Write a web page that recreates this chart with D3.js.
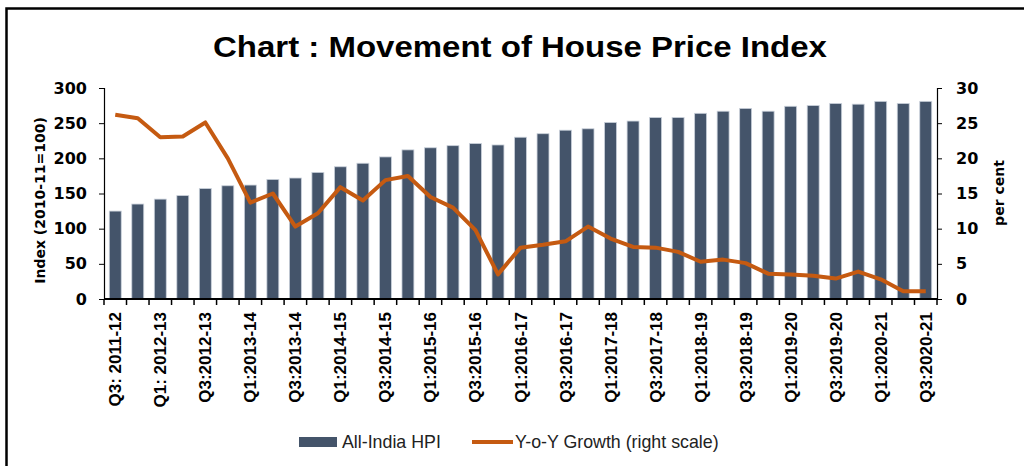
<!DOCTYPE html>
<html>
<head>
<meta charset="utf-8">
<script src="https://cdn.jsdelivr.net/npm/d3@7"></script>
<style>
  html, body { margin: 0; padding: 0; background: #ffffff; }
  svg { display: block; }
</style>
</head>
<body>
<svg id="chart" width="1024" height="466"></svg>
<script>
const categories = [
  "Q3: 2011-12","Q4: 2011-12","Q1: 2012-13","Q2: 2012-13",
  "Q3:2012-13","Q4:2012-13","Q1:2013-14","Q2:2013-14",
  "Q3:2013-14","Q4:2013-14","Q1:2014-15","Q2:2014-15",
  "Q3:2014-15","Q4:2014-15","Q1:2015-16","Q2:2015-16",
  "Q3:2015-16","Q4:2015-16","Q1:2016-17","Q2:2016-17",
  "Q3:2016-17","Q4:2016-17","Q1:2017-18","Q2:2017-18",
  "Q3:2017-18","Q4:2017-18","Q1:2018-19","Q2:2018-19",
  "Q3:2018-19","Q4:2018-19","Q1:2019-20","Q2:2019-20",
  "Q3:2019-20","Q4:2019-20","Q1:2020-21","Q2:2020-21",
  "Q3:2020-21"
];
const hpi = [
  125, 135, 142, 147, 157, 161, 162, 170, 172, 180, 188, 193,
  202, 212, 215, 218, 221, 219, 230, 235, 240, 242, 251, 253,
  258, 258, 264, 267, 271, 267, 274, 275, 278, 277, 281, 278, 281
];
const growth = [
  26.2, 25.7, 23.0, 23.1, 25.1, 20.0, 13.7, 15.0, 10.3, 12.2, 15.9, 14.0,
  16.9, 17.5, 14.5, 13.0, 9.8, 3.5, 7.3, 7.7, 8.2, 10.3, 8.6, 7.4,
  7.3, 6.7, 5.3, 5.6, 5.1, 3.6, 3.5, 3.3, 2.9, 3.9, 2.8, 1.1, 1.1
];
const leftTicks = [0, 50, 100, 150, 200, 250, 300];
const rightTicks = [0, 5, 10, 15, 20, 25, 30];
const titleText = "Chart : Movement of House Price Index";
const leftTitle = "Index (2010-11=100)";
const rightTitle = "per cent";
const seriesNames = ["All-India HPI", "Y-o-Y Growth (right scale)"];

const barColor = "#44546A";
const lineColor = "#C55A11";

const svg = d3.select("#chart");
const plot = { left: 104, right: 937, top: 88, bottom: 299 };

// outer frame
svg.append("rect")
  .attr("x", 6.5).attr("y", 8.5)
  .attr("width", 1030).attr("height", 480)
  .attr("fill", "none").attr("stroke", "#000").attr("stroke-width", 2.5);

// title
svg.append("text")
  .attr("transform", "translate(520,57) scale(1.1,1)")
  .attr("text-anchor", "middle")
  .attr("font-family", "'Liberation Sans', Arial, sans-serif")
  .attr("font-weight", "bold")
  .attr("font-size", 30)
  .attr("fill", "#000")
  .text(titleText);

const x = d3.scaleBand()
  .domain(categories)
  .range([plot.left, plot.right])
  .paddingInner(0.47).paddingOuter(0.235);

const xb = d3.scaleBand().domain(categories).range([plot.left, plot.right]);

const yL = d3.scaleLinear().domain([0, 300]).range([plot.bottom, plot.top]);
const yR = d3.scaleLinear().domain([0, 30]).range([plot.bottom, plot.top]);

// bars
svg.append("g").selectAll("rect")
  .data(hpi)
  .join("rect")
  .attr("x", (d, i) => x(categories[i]))
  .attr("y", d => yL(d))
  .attr("width", x.bandwidth())
  .attr("height", d => yL(0) - yL(d))
  .attr("fill", barColor)
  .attr("stroke", "#c9d0da")
  .attr("stroke-width", 0.8);

// line
const line = d3.line()
  .x((d, i) => xb(categories[i]) + xb.bandwidth() / 2)
  .y(d => yR(d));
svg.append("path")
  .datum(growth)
  .attr("d", line)
  .attr("fill", "none")
  .attr("stroke", lineColor)
  .attr("stroke-width", 4)
  .attr("stroke-linejoin", "round");

const tickFont = "'DejaVu Sans', Verdana, sans-serif";

// left axis
const gL = svg.append("g")
  .attr("transform", `translate(${plot.left},0)`)
  .call(d3.axisLeft(yL).tickValues(leftTicks).tickSize(5).tickPadding(12));
gL.selectAll("text").attr("font-family", tickFont).attr("font-weight", "bold")
  .attr("font-size", 16).attr("fill", "#000");
gL.select(".domain").attr("stroke", "#000").attr("stroke-width", 1.2);
gL.selectAll(".tick line").attr("stroke", "#000");

// right axis
const gR = svg.append("g")
  .attr("transform", `translate(${plot.right},0)`)
  .call(d3.axisRight(yR).tickValues(rightTicks).tickSize(5).tickPadding(14));
gR.selectAll("text").attr("font-family", tickFont).attr("font-weight", "bold")
  .attr("font-size", 16).attr("fill", "#000");
gR.select(".domain").attr("stroke", "#000").attr("stroke-width", 1.2);
gR.selectAll(".tick line").attr("stroke", "#000");

// x axis: ticks at band boundaries
const gX = svg.append("g").attr("transform", `translate(0,${plot.bottom})`);
gX.append("line")
  .attr("x1", plot.left).attr("x2", plot.right)
  .attr("stroke", "#000").attr("stroke-width", 2);
const bounds = categories.map(c => xb(c)).concat([plot.right]);
gX.selectAll("line.tk")
  .data(bounds)
  .join("line").attr("class", "tk")
  .attr("x1", d => d).attr("x2", d => d)
  .attr("y1", 0).attr("y2", 6)
  .attr("stroke", "#000").attr("stroke-width", 1.5);
gX.selectAll("text.lbl")
  .data(categories.filter((c, i) => i % 2 === 0))
  .join("text").attr("class", "lbl")
  .attr("transform", d => `translate(${xb(d) + xb.bandwidth() / 2 + 6},13) rotate(-90)`)
  .attr("text-anchor", "end")
  .attr("font-family", "'Liberation Sans', Arial, sans-serif")
  .attr("font-weight", "bold")
  .attr("font-size", 17)
  .attr("fill", "#000")
  .text(d => d);

// axis titles
svg.append("text")
  .attr("transform", `translate(45,${(plot.top + plot.bottom) / 2 + 7}) rotate(-90)`)
  .attr("text-anchor", "middle")
  .attr("font-family", tickFont).attr("font-weight", "bold").attr("font-size", 14)
  .attr("fill", "#000")
  .text(leftTitle);
svg.append("text")
  .attr("transform", `translate(1004,193) rotate(-90)`)
  .attr("text-anchor", "middle")
  .attr("font-family", tickFont).attr("font-weight", "bold").attr("font-size", 14)
  .attr("fill", "#000")
  .text(rightTitle);

// legend
const lg = svg.append("g");
lg.append("rect").attr("x", 299).attr("y", 437).attr("width", 38).attr("height", 10)
  .attr("fill", barColor);
lg.append("text").attr("x", 342).attr("y", 448)
  .attr("font-family", "'Liberation Sans', Arial, sans-serif").attr("font-size", 17.8)
  .attr("fill", "#222").text(seriesNames[0]);
lg.append("line").attr("x1", 472).attr("x2", 513).attr("y1", 442).attr("y2", 442)
  .attr("stroke", lineColor).attr("stroke-width", 4);
lg.append("text").attr("x", 515).attr("y", 448)
  .attr("font-family", "'Liberation Sans', Arial, sans-serif").attr("font-size", 17.8)
  .attr("fill", "#222").text(seriesNames[1]);
</script>
</body>
</html>
